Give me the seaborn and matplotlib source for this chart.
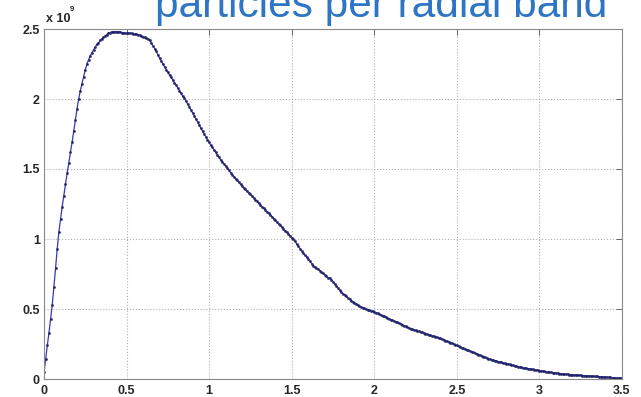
import numpy as np
import pandas as pd
import matplotlib
matplotlib.use("Agg")
import matplotlib.pyplot as plt
import seaborn as sns

# radial band centres (step 0.01 from 0 to 3.5)
r_start, r_stop, r_step = 0.0, 3.5, 0.01

# particles per radial band, in units of 1e9
counts = [
    0.05, 0.14, 0.24, 0.33, 0.43, 0.53, 0.66, 0.79, 0.93, 1.05,
    1.14, 1.23, 1.31, 1.39, 1.47, 1.54, 1.62, 1.69, 1.77, 1.85,
    1.93, 2.00, 2.06, 2.11, 2.16, 2.21, 2.25, 2.28, 2.31, 2.33,
    2.35, 2.37, 2.39, 2.40, 2.42, 2.43, 2.44, 2.45, 2.46, 2.47,
    2.475, 2.48, 2.48, 2.48, 2.48, 2.48, 2.48, 2.475, 2.475, 2.47,
    2.47, 2.47, 2.47, 2.468, 2.466, 2.464, 2.462, 2.46, 2.455, 2.45,
    2.445, 2.44, 2.435, 2.43, 2.42, 2.40, 2.38, 2.36, 2.34, 2.315,
    2.29, 2.27, 2.25, 2.23, 2.21, 2.19, 2.17, 2.155, 2.135, 2.115,
    2.10, 2.08, 2.06, 2.04, 2.02, 2.005, 1.985, 1.965, 1.945, 1.92,
    1.90, 1.88, 1.855, 1.835, 1.815, 1.79, 1.77, 1.75, 1.73, 1.71,
    1.69, 1.67, 1.655, 1.635, 1.62, 1.60, 1.585, 1.565, 1.55, 1.535,
    1.52, 1.505, 1.49, 1.475, 1.46, 1.445, 1.43, 1.42, 1.405, 1.39,
    1.38, 1.365, 1.355, 1.34, 1.33, 1.32, 1.305, 1.295, 1.28, 1.27,
    1.255, 1.245, 1.23, 1.22, 1.21, 1.195, 1.185, 1.17, 1.16, 1.145,
    1.135, 1.12, 1.11, 1.10, 1.085, 1.075, 1.06, 1.05, 1.035, 1.025,
    1.01, 1.00, 0.985, 0.965, 0.95, 0.93, 0.915, 0.90, 0.885, 0.87,
    0.855, 0.84, 0.825, 0.81, 0.80, 0.79, 0.785, 0.775, 0.765, 0.755,
    0.745, 0.735, 0.725, 0.72, 0.71, 0.695, 0.68, 0.665, 0.65, 0.635,
    0.62, 0.61, 0.60, 0.59, 0.58, 0.57, 0.56, 0.553, 0.545, 0.537,
    0.528, 0.52, 0.515, 0.51, 0.505, 0.50, 0.496, 0.492, 0.488, 0.484,
    0.48, 0.475, 0.469, 0.464, 0.458, 0.453, 0.447, 0.442, 0.436, 0.431,
    0.425, 0.42, 0.414, 0.409, 0.404, 0.398, 0.393, 0.387, 0.382, 0.376,
    0.371, 0.365, 0.36, 0.356, 0.352, 0.348, 0.344, 0.34, 0.337, 0.333,
    0.329, 0.325, 0.321, 0.317, 0.313, 0.309, 0.306, 0.302, 0.298, 0.294,
    0.29, 0.285, 0.28, 0.275, 0.27, 0.265, 0.26, 0.255, 0.25, 0.245,
    0.24, 0.235, 0.23, 0.225, 0.22, 0.215, 0.21, 0.205, 0.20, 0.195,
    0.19, 0.185, 0.18, 0.175, 0.17, 0.165, 0.16, 0.155, 0.15, 0.145,
    0.14, 0.137, 0.134, 0.131, 0.128, 0.125, 0.122, 0.119, 0.116, 0.113,
    0.11, 0.107, 0.104, 0.101, 0.098, 0.095, 0.092, 0.089, 0.086, 0.083,
    0.08, 0.078, 0.076, 0.074, 0.072, 0.07, 0.068, 0.066, 0.064, 0.062,
    0.06, 0.058, 0.056, 0.054, 0.052, 0.05, 0.048, 0.047, 0.045, 0.044,
    0.042, 0.041, 0.039, 0.038, 0.037, 0.036, 0.035, 0.034, 0.032, 0.031,
    0.03, 0.029, 0.028, 0.028, 0.027, 0.026, 0.025, 0.024, 0.023, 0.023,
    0.022, 0.021, 0.02, 0.019, 0.018, 0.018, 0.017, 0.016, 0.015, 0.014,
    0.013, 0.013, 0.012, 0.011, 0.01, 0.009, 0.008, 0.008, 0.007, 0.006,
    0.005,
]

x_ticks = [0, 0.5, 1, 1.5, 2, 2.5, 3, 3.5]
x_tick_labels = ["0", "0.5", "1", "1.5", "2", "2.5", "3", "3.5"]
y_ticks = [0, 0.5, 1, 1.5, 2, 2.5]
y_tick_labels = ["0", "0.5", "1", "1.5", "2", "2.5"]
title_text = "particles per radial band"

radius = np.round(np.arange(len(counts)) * r_step + r_start, 4)
df = pd.DataFrame({"radius": radius, "count": np.array(counts) * 1e9})

sns.set_style("white")
plt.rcParams["font.family"] = ["Liberation Sans", "DejaVu Sans"]

fig = plt.figure(figsize=(6.41, 3.97), dpi=100)
ax = fig.add_axes([44 / 641, 18 / 397, 578 / 641, 350 / 397])

sns.lineplot(data=df, x="radius", y="count", ax=ax, color="#3a3ab0",
             linewidth=0.9, marker=".", markersize=3.2,
             markerfacecolor="#22226a", markeredgecolor="#22226a",
             markeredgewidth=0.3)

ax.set_xlim(0, 3.5)
ax.set_ylim(0, 2.5e9)
ax.set_xticks(x_ticks)
ax.set_xticklabels(x_tick_labels, fontweight="bold", fontsize=9)
ax.set_yticks([v * 1e9 for v in y_ticks])
ax.set_yticklabels(y_tick_labels, fontweight="bold", fontsize=9)
ax.set_xlabel("")
ax.set_ylabel("")

ax.grid(True, linestyle=":", color="#b0b0b0", linewidth=0.8)
ax.tick_params(direction="in", length=4, width=0.7, color="#666666",
               top=True, right=True, pad=3)
ax.tick_params(axis="x", pad=4)
for s in ax.spines.values():
    s.set_color("#8a8a8a")
    s.set_linewidth(0.8)

ax.text(0.004, 1.012, "x 10", transform=ax.transAxes, fontsize=9,
        fontweight="bold", ha="left", va="bottom")
ax.text(0.045, 1.045, "9", transform=ax.transAxes, fontsize=5.5,
        fontweight="bold", ha="left", va="bottom")

fig.text(155 / 641, 1 - 17 / 397, title_text, fontsize=30.5,
         color="#2e75c6", ha="left", va="baseline")

fig.savefig("out.png", dpi=100)
